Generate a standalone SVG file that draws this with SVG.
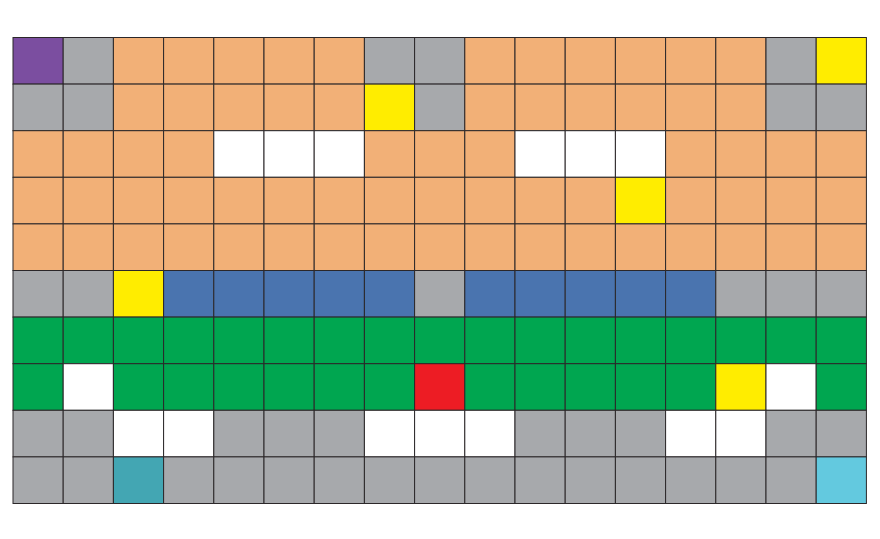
<svg xmlns="http://www.w3.org/2000/svg" width="880" height="539" viewBox="0 0 880 539">
<style>
rect{stroke:#2b2729;stroke-width:1;}
.o{fill:#F2B077}.g{fill:#A7A9AC}.p{fill:#7B4EA0}.y{fill:#FFED00}.w{fill:#FFFFFF}
.b{fill:#4A74AF}.n{fill:#00A650}.r{fill:#ED1C24}.t{fill:#43A6B3}.l{fill:#63C9DF}
</style>
<rect x="0" y="0" width="880" height="539" fill="#fff" style="stroke:none"/>
<g id="row0">
<rect class="p" x="13" y="37.5" width="50.2" height="46.6"/>
<rect class="g" x="63.2" y="37.5" width="50.2" height="46.6"/>
<rect class="o" x="113.4" y="37.5" width="50.2" height="46.6"/>
<rect class="o" x="163.6" y="37.5" width="50.2" height="46.6"/>
<rect class="o" x="213.8" y="37.5" width="50.2" height="46.6"/>
<rect class="o" x="264" y="37.5" width="50.2" height="46.6"/>
<rect class="o" x="314.2" y="37.5" width="50.2" height="46.6"/>
<rect class="g" x="364.4" y="37.5" width="50.2" height="46.6"/>
<rect class="g" x="414.6" y="37.5" width="50.2" height="46.6"/>
<rect class="o" x="464.8" y="37.5" width="50.2" height="46.6"/>
<rect class="o" x="515" y="37.5" width="50.2" height="46.6"/>
<rect class="o" x="565.2" y="37.5" width="50.2" height="46.6"/>
<rect class="o" x="615.4" y="37.5" width="50.2" height="46.6"/>
<rect class="o" x="665.6" y="37.5" width="50.2" height="46.6"/>
<rect class="o" x="715.8" y="37.5" width="50.2" height="46.6"/>
<rect class="g" x="766" y="37.5" width="50.2" height="46.6"/>
<rect class="y" x="816.2" y="37.5" width="50.2" height="46.6"/>
</g>
<g id="row1">
<rect class="g" x="13" y="84.1" width="50.2" height="46.6"/>
<rect class="g" x="63.2" y="84.1" width="50.2" height="46.6"/>
<rect class="o" x="113.4" y="84.1" width="50.2" height="46.6"/>
<rect class="o" x="163.6" y="84.1" width="50.2" height="46.6"/>
<rect class="o" x="213.8" y="84.1" width="50.2" height="46.6"/>
<rect class="o" x="264" y="84.1" width="50.2" height="46.6"/>
<rect class="o" x="314.2" y="84.1" width="50.2" height="46.6"/>
<rect class="y" x="364.4" y="84.1" width="50.2" height="46.6"/>
<rect class="g" x="414.6" y="84.1" width="50.2" height="46.6"/>
<rect class="o" x="464.8" y="84.1" width="50.2" height="46.6"/>
<rect class="o" x="515" y="84.1" width="50.2" height="46.6"/>
<rect class="o" x="565.2" y="84.1" width="50.2" height="46.6"/>
<rect class="o" x="615.4" y="84.1" width="50.2" height="46.6"/>
<rect class="o" x="665.6" y="84.1" width="50.2" height="46.6"/>
<rect class="o" x="715.8" y="84.1" width="50.2" height="46.6"/>
<rect class="g" x="766" y="84.1" width="50.2" height="46.6"/>
<rect class="g" x="816.2" y="84.1" width="50.2" height="46.6"/>
</g>
<g id="row2">
<rect class="o" x="13" y="130.7" width="50.2" height="46.6"/>
<rect class="o" x="63.2" y="130.7" width="50.2" height="46.6"/>
<rect class="o" x="113.4" y="130.7" width="50.2" height="46.6"/>
<rect class="o" x="163.6" y="130.7" width="50.2" height="46.6"/>
<rect class="w" x="213.8" y="130.7" width="50.2" height="46.6"/>
<rect class="w" x="264" y="130.7" width="50.2" height="46.6"/>
<rect class="w" x="314.2" y="130.7" width="50.2" height="46.6"/>
<rect class="o" x="364.4" y="130.7" width="50.2" height="46.6"/>
<rect class="o" x="414.6" y="130.7" width="50.2" height="46.6"/>
<rect class="o" x="464.8" y="130.7" width="50.2" height="46.6"/>
<rect class="w" x="515" y="130.7" width="50.2" height="46.6"/>
<rect class="w" x="565.2" y="130.7" width="50.2" height="46.6"/>
<rect class="w" x="615.4" y="130.7" width="50.2" height="46.6"/>
<rect class="o" x="665.6" y="130.7" width="50.2" height="46.6"/>
<rect class="o" x="715.8" y="130.7" width="50.2" height="46.6"/>
<rect class="o" x="766" y="130.7" width="50.2" height="46.6"/>
<rect class="o" x="816.2" y="130.7" width="50.2" height="46.6"/>
</g>
<g id="row3">
<rect class="o" x="13" y="177.3" width="50.2" height="46.6"/>
<rect class="o" x="63.2" y="177.3" width="50.2" height="46.6"/>
<rect class="o" x="113.4" y="177.3" width="50.2" height="46.6"/>
<rect class="o" x="163.6" y="177.3" width="50.2" height="46.6"/>
<rect class="o" x="213.8" y="177.3" width="50.2" height="46.6"/>
<rect class="o" x="264" y="177.3" width="50.2" height="46.6"/>
<rect class="o" x="314.2" y="177.3" width="50.2" height="46.6"/>
<rect class="o" x="364.4" y="177.3" width="50.2" height="46.6"/>
<rect class="o" x="414.6" y="177.3" width="50.2" height="46.6"/>
<rect class="o" x="464.8" y="177.3" width="50.2" height="46.6"/>
<rect class="o" x="515" y="177.3" width="50.2" height="46.6"/>
<rect class="o" x="565.2" y="177.3" width="50.2" height="46.6"/>
<rect class="y" x="615.4" y="177.3" width="50.2" height="46.6"/>
<rect class="o" x="665.6" y="177.3" width="50.2" height="46.6"/>
<rect class="o" x="715.8" y="177.3" width="50.2" height="46.6"/>
<rect class="o" x="766" y="177.3" width="50.2" height="46.6"/>
<rect class="o" x="816.2" y="177.3" width="50.2" height="46.6"/>
</g>
<g id="row4">
<rect class="o" x="13" y="223.9" width="50.2" height="46.6"/>
<rect class="o" x="63.2" y="223.9" width="50.2" height="46.6"/>
<rect class="o" x="113.4" y="223.9" width="50.2" height="46.6"/>
<rect class="o" x="163.6" y="223.9" width="50.2" height="46.6"/>
<rect class="o" x="213.8" y="223.9" width="50.2" height="46.6"/>
<rect class="o" x="264" y="223.9" width="50.2" height="46.6"/>
<rect class="o" x="314.2" y="223.9" width="50.2" height="46.6"/>
<rect class="o" x="364.4" y="223.9" width="50.2" height="46.6"/>
<rect class="o" x="414.6" y="223.9" width="50.2" height="46.6"/>
<rect class="o" x="464.8" y="223.9" width="50.2" height="46.6"/>
<rect class="o" x="515" y="223.9" width="50.2" height="46.6"/>
<rect class="o" x="565.2" y="223.9" width="50.2" height="46.6"/>
<rect class="o" x="615.4" y="223.9" width="50.2" height="46.6"/>
<rect class="o" x="665.6" y="223.9" width="50.2" height="46.6"/>
<rect class="o" x="715.8" y="223.9" width="50.2" height="46.6"/>
<rect class="o" x="766" y="223.9" width="50.2" height="46.6"/>
<rect class="o" x="816.2" y="223.9" width="50.2" height="46.6"/>
</g>
<g id="row5">
<rect class="g" x="13" y="270.5" width="50.2" height="46.6"/>
<rect class="g" x="63.2" y="270.5" width="50.2" height="46.6"/>
<rect class="y" x="113.4" y="270.5" width="50.2" height="46.6"/>
<rect class="b" x="163.6" y="270.5" width="50.2" height="46.6"/>
<rect class="b" x="213.8" y="270.5" width="50.2" height="46.6"/>
<rect class="b" x="264" y="270.5" width="50.2" height="46.6"/>
<rect class="b" x="314.2" y="270.5" width="50.2" height="46.6"/>
<rect class="b" x="364.4" y="270.5" width="50.2" height="46.6"/>
<rect class="g" x="414.6" y="270.5" width="50.2" height="46.6"/>
<rect class="b" x="464.8" y="270.5" width="50.2" height="46.6"/>
<rect class="b" x="515" y="270.5" width="50.2" height="46.6"/>
<rect class="b" x="565.2" y="270.5" width="50.2" height="46.6"/>
<rect class="b" x="615.4" y="270.5" width="50.2" height="46.6"/>
<rect class="b" x="665.6" y="270.5" width="50.2" height="46.6"/>
<rect class="g" x="715.8" y="270.5" width="50.2" height="46.6"/>
<rect class="g" x="766" y="270.5" width="50.2" height="46.6"/>
<rect class="g" x="816.2" y="270.5" width="50.2" height="46.6"/>
</g>
<g id="row6">
<rect class="n" x="13" y="317.1" width="50.2" height="46.6"/>
<rect class="n" x="63.2" y="317.1" width="50.2" height="46.6"/>
<rect class="n" x="113.4" y="317.1" width="50.2" height="46.6"/>
<rect class="n" x="163.6" y="317.1" width="50.2" height="46.6"/>
<rect class="n" x="213.8" y="317.1" width="50.2" height="46.6"/>
<rect class="n" x="264" y="317.1" width="50.2" height="46.6"/>
<rect class="n" x="314.2" y="317.1" width="50.2" height="46.6"/>
<rect class="n" x="364.4" y="317.1" width="50.2" height="46.6"/>
<rect class="n" x="414.6" y="317.1" width="50.2" height="46.6"/>
<rect class="n" x="464.8" y="317.1" width="50.2" height="46.6"/>
<rect class="n" x="515" y="317.1" width="50.2" height="46.6"/>
<rect class="n" x="565.2" y="317.1" width="50.2" height="46.6"/>
<rect class="n" x="615.4" y="317.1" width="50.2" height="46.6"/>
<rect class="n" x="665.6" y="317.1" width="50.2" height="46.6"/>
<rect class="n" x="715.8" y="317.1" width="50.2" height="46.6"/>
<rect class="n" x="766" y="317.1" width="50.2" height="46.6"/>
<rect class="n" x="816.2" y="317.1" width="50.2" height="46.6"/>
</g>
<g id="row7">
<rect class="n" x="13" y="363.7" width="50.2" height="46.6"/>
<rect class="w" x="63.2" y="363.7" width="50.2" height="46.6"/>
<rect class="n" x="113.4" y="363.7" width="50.2" height="46.6"/>
<rect class="n" x="163.6" y="363.7" width="50.2" height="46.6"/>
<rect class="n" x="213.8" y="363.7" width="50.2" height="46.6"/>
<rect class="n" x="264" y="363.7" width="50.2" height="46.6"/>
<rect class="n" x="314.2" y="363.7" width="50.2" height="46.6"/>
<rect class="n" x="364.4" y="363.7" width="50.2" height="46.6"/>
<rect class="r" x="414.6" y="363.7" width="50.2" height="46.6"/>
<rect class="n" x="464.8" y="363.7" width="50.2" height="46.6"/>
<rect class="n" x="515" y="363.7" width="50.2" height="46.6"/>
<rect class="n" x="565.2" y="363.7" width="50.2" height="46.6"/>
<rect class="n" x="615.4" y="363.7" width="50.2" height="46.6"/>
<rect class="n" x="665.6" y="363.7" width="50.2" height="46.6"/>
<rect class="y" x="715.8" y="363.7" width="50.2" height="46.6"/>
<rect class="w" x="766" y="363.7" width="50.2" height="46.6"/>
<rect class="n" x="816.2" y="363.7" width="50.2" height="46.6"/>
</g>
<g id="row8">
<rect class="g" x="13" y="410.3" width="50.2" height="46.6"/>
<rect class="g" x="63.2" y="410.3" width="50.2" height="46.6"/>
<rect class="w" x="113.4" y="410.3" width="50.2" height="46.6"/>
<rect class="w" x="163.6" y="410.3" width="50.2" height="46.6"/>
<rect class="g" x="213.8" y="410.3" width="50.2" height="46.6"/>
<rect class="g" x="264" y="410.3" width="50.2" height="46.6"/>
<rect class="g" x="314.2" y="410.3" width="50.2" height="46.6"/>
<rect class="w" x="364.4" y="410.3" width="50.2" height="46.6"/>
<rect class="w" x="414.6" y="410.3" width="50.2" height="46.6"/>
<rect class="w" x="464.8" y="410.3" width="50.2" height="46.6"/>
<rect class="g" x="515" y="410.3" width="50.2" height="46.6"/>
<rect class="g" x="565.2" y="410.3" width="50.2" height="46.6"/>
<rect class="g" x="615.4" y="410.3" width="50.2" height="46.6"/>
<rect class="w" x="665.6" y="410.3" width="50.2" height="46.6"/>
<rect class="w" x="715.8" y="410.3" width="50.2" height="46.6"/>
<rect class="g" x="766" y="410.3" width="50.2" height="46.6"/>
<rect class="g" x="816.2" y="410.3" width="50.2" height="46.6"/>
</g>
<g id="row9">
<rect class="g" x="13" y="456.9" width="50.2" height="46.6"/>
<rect class="g" x="63.2" y="456.9" width="50.2" height="46.6"/>
<rect class="t" x="113.4" y="456.9" width="50.2" height="46.6"/>
<rect class="g" x="163.6" y="456.9" width="50.2" height="46.6"/>
<rect class="g" x="213.8" y="456.9" width="50.2" height="46.6"/>
<rect class="g" x="264" y="456.9" width="50.2" height="46.6"/>
<rect class="g" x="314.2" y="456.9" width="50.2" height="46.6"/>
<rect class="g" x="364.4" y="456.9" width="50.2" height="46.6"/>
<rect class="g" x="414.6" y="456.9" width="50.2" height="46.6"/>
<rect class="g" x="464.8" y="456.9" width="50.2" height="46.6"/>
<rect class="g" x="515" y="456.9" width="50.2" height="46.6"/>
<rect class="g" x="565.2" y="456.9" width="50.2" height="46.6"/>
<rect class="g" x="615.4" y="456.9" width="50.2" height="46.6"/>
<rect class="g" x="665.6" y="456.9" width="50.2" height="46.6"/>
<rect class="g" x="715.8" y="456.9" width="50.2" height="46.6"/>
<rect class="g" x="766" y="456.9" width="50.2" height="46.6"/>
<rect class="l" x="816.2" y="456.9" width="50.2" height="46.6"/>
</g>
</svg>
